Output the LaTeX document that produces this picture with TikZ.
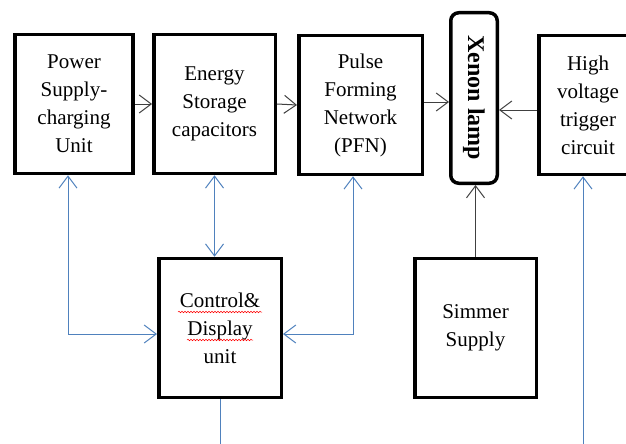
\documentclass[tikz,border=0pt]{standalone}
\usepackage{fontspec}
\setmainfont{Liberation Serif}
\usetikzlibrary{arrows.meta,positioning,decorations.pathmorphing}
\definecolor{linkblue}{RGB}{79,129,189}
\definecolor{linkgray}{RGB}{64,64,64}

\begin{document}
\begin{tikzpicture}[x=1pt,y=-1pt,
  font=\fontsize{21}{28}\selectfont,
  >={Straight Barb[length=12pt,width=18pt]},
  blk/.style={draw=black, line width=3.5pt, minimum width=118pt, minimum height=139pt, inner sep=1pt, align=center},
  lamp/.style={draw=black, line width=3.5pt, rounded corners=8pt, minimum width=46.5pt, minimum height=170.5pt, inner sep=0pt},
  gl/.style={draw=linkgray, line width=1pt},
  bl/.style={draw=linkblue, line width=1pt},
  spell/.style={draw=red, line width=0.5pt, decorate, decoration={snake, amplitude=0.8pt, segment length=3pt}},
]
\clip (0,0) rectangle (626,444);
% ---------------- top row ----------------
\node[blk] (psu) at (74,104) {Power\\Supply-\\charging\\Unit};
\node[blk, minimum width=121.5pt] (esc) at (214.5,104) {Energy\\Storage\\capacitors};
\node[blk, minimum width=123.5pt] (pfn) at (360.5,105) {Pulse\\Forming\\Network\\(PFN)};
\node[lamp] (xen) at (474,98) {};
\node[font=\fontsize{24}{28}\bfseries, rotate=-90] at (xen.center) {Xenon lamp};
\node[blk, minimum width=110pt, anchor=west] (hvt) at (537,105) {};
\node[align=center] at (588,105) {High\\voltage\\trigger\\circuit};
% ---------------- bottom row ----------------
\node[blk, minimum width=122.5pt] (ctl) at (220,328) {Control\&\\Display\\unit};
\node[blk, minimum width=121.5pt] (sim) at (475.5,328) {Simmer\\Supply};
\draw[spell] (178,312) -- (262,312);
\draw[spell] (187,340) -- (253,340);
% ---------------- power path ----------------
\draw[gl,->] (psu.east) -- (esc.west);
\draw[gl,->] (esc.east) -- (pfn.west);
\draw[gl,->] ([yshift=3pt]pfn.east) -- ([yshift=3pt]pfn.east -| xen.west);
\draw[gl,->] ([yshift=-5pt]hvt.west) -- ([yshift=-5pt]hvt.west -| xen.east);
\draw[gl,->] (sim.north) -- (sim.north |- xen.south);
% ---------------- control links ----------------
\coordinate (jl) at (68,334);
\coordinate (jr) at (353,334);
\coordinate (cout) at (220,444);
\coordinate (hvin) at (583,444);
\draw[bl,<->] (psu.south -| jl) -- (jl) -- (jl -| ctl.west);
\draw[bl,<->] (esc.south) -- (esc.south |- ctl.north);
\draw[bl,<->] (pfn.south -| jr) -- (jr) -- (jr -| ctl.east);
\draw[bl] (ctl.south) -- (cout);
\draw[bl,->] (hvin) -- (hvin |- hvt.south);
\end{tikzpicture}
\end{document}
